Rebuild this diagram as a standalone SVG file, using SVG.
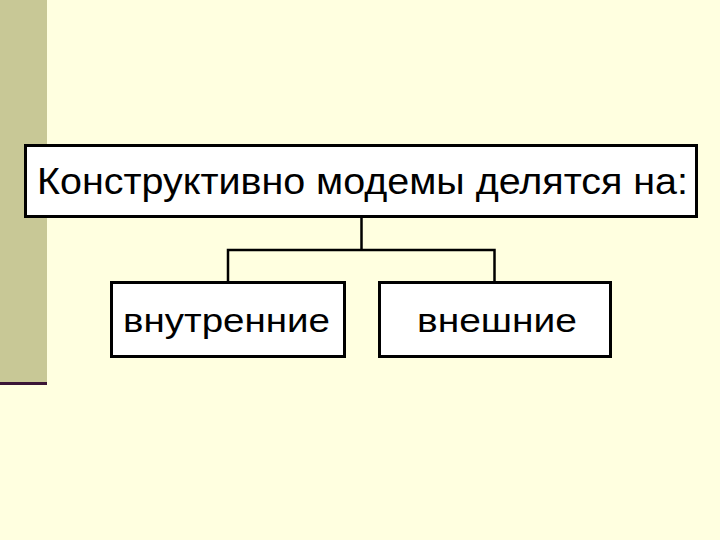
<svg xmlns="http://www.w3.org/2000/svg" width="720" height="540" viewBox="0 0 720 540">
<style>
.box{fill:#ffffff;stroke:#000000;stroke-width:3}
.conn{fill:none;stroke:#000000;stroke-width:2.5}
.t{font-family:"Liberation Sans","DejaVu Sans",sans-serif;fill:#000000}
</style>
<rect x="0" y="0" width="720" height="540" fill="#ffffe0"/>
<rect x="0" y="0" width="47" height="382" fill="#c8c896"/>
<rect x="0" y="382" width="47" height="3" fill="#3a1536"/>
<g id="connectors">
<path class="conn" d="M361.5 217 V250 M228 282 V250 H494.5 V282"/>
</g>
<g id="top">
<rect class="box" x="25.5" y="145.5" width="671" height="71"/>
<text class="t" x="37" y="194" font-size="37" textLength="651" lengthAdjust="spacingAndGlyphs">Конструктивно модемы делятся на:</text>
</g>
<g id="inner">
<rect class="box" x="111.5" y="282.5" width="233" height="74"/>
<text class="t" x="123" y="332" font-size="34" textLength="207" lengthAdjust="spacingAndGlyphs">внутренние</text>
</g>
<g id="outer">
<rect class="box" x="379.5" y="282.5" width="231" height="74"/>
<text class="t" x="417" y="332" font-size="34" textLength="160" lengthAdjust="spacingAndGlyphs">внешние</text>
</g>
</svg>
